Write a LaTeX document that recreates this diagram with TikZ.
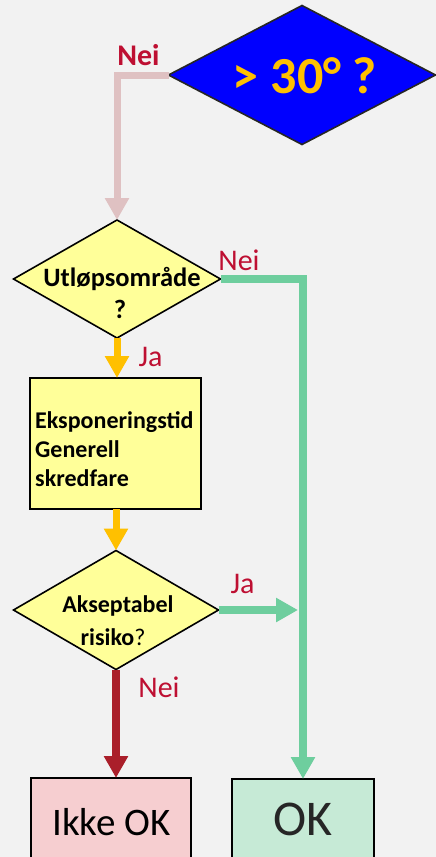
\documentclass[tikz,border=0pt]{standalone}
\usepackage{fontspec}
\setmainfont{Carlito}
\usetikzlibrary{shapes.geometric,arrows.meta}
\definecolor{bg}{RGB}{242,242,242}
\definecolor{dblue}{RGB}{0,0,255}
\definecolor{gold}{RGB}{255,192,0}
\definecolor{lyellow}{RGB}{255,255,153}
\definecolor{pinkline}{RGB}{223,193,194}
\definecolor{greenline}{RGB}{110,206,158}
\definecolor{redline}{RGB}{170,31,42}
\definecolor{lblred}{RGB}{190,15,50}
\definecolor{ikkefill}{RGB}{246,206,208}
\definecolor{okfill}{RGB}{198,234,214}
\definecolor{darktext}{RGB}{38,38,38}
\tikzset{
  dia/.style={diamond, draw=black, line width=1.6pt, inner sep=0pt, outer sep=0pt},
  boxnode/.style={rectangle, draw=black, line width=2.2pt, inner sep=0pt, outer sep=0pt},
  btext/.style={font=\fontsize{24}{28}\selectfont\bfseries, text=black, inner sep=0pt, anchor=base},
  lbl/.style={font=\fontsize{30}{34}\selectfont, text=lblred, inner sep=0pt, anchor=base},
  conn/.style={line width=7pt, line join=miter, -{Triangle[width=23pt,length=22pt]}},
}
\begin{document}
\begin{tikzpicture}[x=1pt,y=-1pt]
\useasboundingbox (0,0) rectangle (436,857);
\clip (0,0) rectangle (436,857);
\fill[bg] (0,0) rectangle (436,857);

% nodes
\node[dia, fill=dblue, draw=darktext, minimum width=267pt, minimum height=139pt] (d0) at (302,75) {};
\node[font=\fontsize{52}{52}\selectfont\bfseries, text=gold, inner sep=0pt, anchor=base] (d0t) at (305,93) {> 30° ?};

\node[dia, fill=lyellow, minimum width=207pt, minimum height=118pt] (d1) at (117,279) {};
\node[btext, font=\fontsize{26.5}{28}\selectfont\bfseries] (d1a) at (122,286) {Utløpsområde};
\node[btext, font=\fontsize{26.5}{28}\selectfont\bfseries] (d1b) at (120,318) {?};

\node[boxnode, fill=lyellow, minimum width=171pt, minimum height=131pt, anchor=north west] (box) at (30,378) {};
\node[btext, anchor=base west] (bx1) at (35,428) {Eksponeringstid};
\node[btext, anchor=base west] (bx2) at (35,457) {Generell};
\node[btext, anchor=base west] (bx3) at (35,486) {skredfare};

\node[dia, fill=lyellow, minimum width=205pt, minimum height=119pt] (d2) at (116,610) {};
\node[btext] (d2a) at (118,612) {Akseptabel};
\node[btext] (d2b) at (113,645) {risiko{\mdseries ?}};

\node[boxnode, fill=ikkefill, minimum width=160pt, minimum height=100pt, anchor=north] (ikke) at (111,778) {};
\node[font=\fontsize{39}{40}\selectfont, text=black, inner sep=0pt, anchor=base] (ikket) at (111.5,835) {Ikke OK};

\node[boxnode, fill=okfill, minimum width=142pt, minimum height=100pt, anchor=north] (ok) at (303,779) {};
\node[font=\fontsize{50}{50}\selectfont, text=darktext, inner sep=0pt, anchor=base] (okt) at (303,835) {OK};

\coordinate (join) at (298,610);

% connectors
\draw[conn, pinkline] (d0.west) -| (d1.north);
\draw[conn, gold] (d1.south) -- (d1.south |- box.north);
\draw[conn, gold] (d2.north |- box.south) -- (d2.north);
\draw[conn, greenline, line width=7.5pt] (d1.east) -| (ok.north);
\draw[conn, greenline, line width=7.5pt] (d2.east) -- (join);
\draw[conn, redline, line width=7.5pt] (d2.south) -- (d2.south |- ikke.north);

% labels
\node[lbl, font=\fontsize{30}{34}\selectfont\bfseries] (l1) at (138.5,65) {Nei};
\node[lbl] (l2) at (239,270) {Nei};
\node[lbl] (l3) at (150.5,366) {Ja};
\node[lbl] (l4) at (242.5,593) {Ja};
\node[lbl] (l5) at (159,697) {Nei};
\end{tikzpicture}
\end{document}
